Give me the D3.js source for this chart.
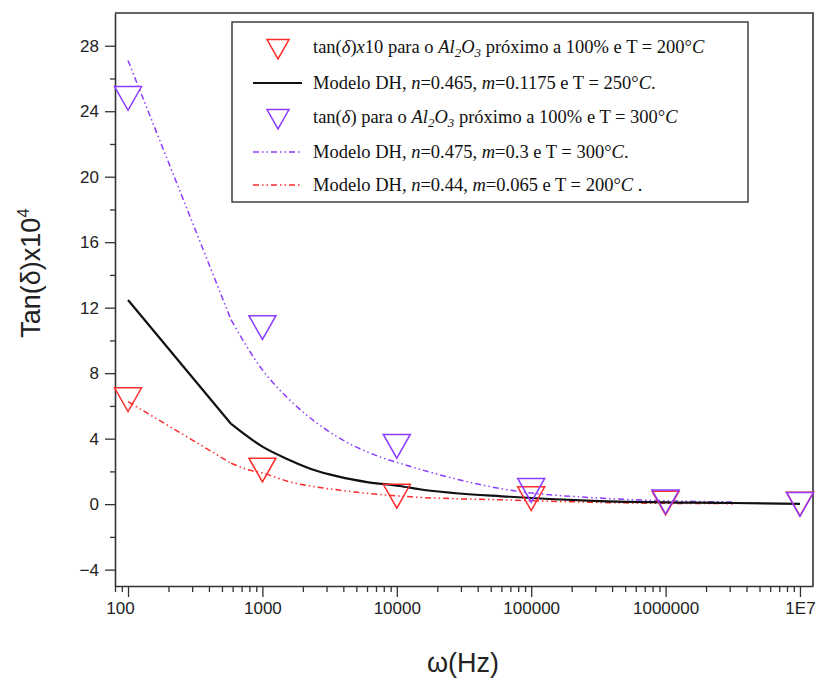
<!DOCTYPE html>
<html>
<head>
<meta charset="utf-8">
<script src="https://cdn.jsdelivr.net/npm/d3@7"></script>
<style>
  body { margin: 0; background: #fff; }
  svg { display: block; }
  .tick text { font-family: "Liberation Sans", Arial, sans-serif; font-size: 17px; fill: #222; }
</style>
</head>
<body>
<script>
// measured points (triangles)
const freqs = [100, 1000, 10000, 100000, 1000000, 10000000]
const tan200x10 = [6.4, 2.1, 0.5, 0.35, 0.08, 0.02]
const tan300 = [24.8, 10.8, 3.55, 0.86, 0.15, 0.0]

// DH model curves
const dh250Freq = [100, 585, 1000, 1585, 2300, 3700, 6000, 10500, 14800, 69000, 324000, 3200000, 10000000]
const dh250Val = [12.47, 4.9, 3.51, 2.7, 2.15, 1.68, 1.35, 1.11, 0.91, 0.45, 0.19, 0.07, 0.02]

const dh300Freq = [100, 585, 1000, 1580, 2800, 7400, 10500, 69000, 324000, 3200000]
const dh300Val = [27.1, 11.25, 8.2, 6.4, 4.7, 2.9, 2.5, 0.86, 0.37, 0.13]

const dh200Freq = [100, 585, 794, 1000, 1585, 3700, 12600, 69000, 575000, 3200000]
const dh200Val = [6.26, 2.5, 2.09, 1.9, 1.37, 0.86, 0.45, 0.25, 0.07, 0.03]

const xTicks = [100, 1000, 10000, 100000, 1000000, 10000000]
const xTickLabels = ['100', '1000', '10000', '100000', '1000000', '1E7']
const yTicks = [-4, 0, 4, 8, 12, 16, 20, 24, 28]

const w = 824
const h = 684
const m = { top: 13, right: 11, bottom: 98, left: 115 }

const red = '#ff2a2a'
const purple = '#8c3cff'

const svg = d3.select('body')
  .append('svg')
  .attr('width', w)
  .attr('height', h)

const xScale = d3.scaleLog()
  .domain([80, 12500000])
  .range([m.left, w - m.right])

const yScale = d3.scaleLinear()
  .domain([-5, 30])
  .range([h - m.bottom, m.top])

// minor tick values
let xMinor = [80, 90]
for (let e = 2; e <= 6; e++) {
  for (let k = 2; k <= 9; k++) xMinor.push(k * Math.pow(10, e))
}
let yMinor = []
for (let v = -2; v <= 28; v += 4) yMinor.push(v)

// frame top and right
svg.append('path')
  .attr('d', `M${m.left},${m.top}H${w - m.right}V${h - m.bottom}`)
  .attr('fill', 'none')
  .attr('stroke', '#333')
  .attr('stroke-width', 1.6)

const xAxis = d3.axisBottom(xScale)
  .tickValues(xTicks)
  .tickFormat((d, i) => xTickLabels[i])
  .tickSize(11)
  .tickSizeOuter(0)
  .tickPadding(5)

const gx = svg.append('g')
  .attr('class', 'x-axis')
  .attr('transform', 'translate(0,' + (h - m.bottom) + ')')
  .call(xAxis)

gx.selectAll('.tick')
  .filter((d, i) => i === 0)
  .select('text')
  .attr('dx', -8)

svg.append('g')
  .attr('transform', 'translate(0,' + (h - m.bottom) + ')')
  .call(d3.axisBottom(xScale).tickValues(xMinor).tickFormat('').tickSize(6).tickSizeOuter(0))
  .select('.domain').remove()

const yAxis = d3.axisLeft(yScale)
  .tickValues(yTicks)
  .tickSize(10)
  .tickSizeOuter(0)
  .tickPadding(6)

svg.append('g')
  .attr('class', 'y-axis')
  .attr('transform', 'translate(' + m.left + ',0)')
  .call(yAxis)

svg.append('g')
  .attr('transform', 'translate(' + m.left + ',0)')
  .call(d3.axisLeft(yScale).tickValues(yMinor).tickFormat('').tickSize(5).tickSizeOuter(0))
  .select('.domain').remove()

svg.selectAll('.domain').attr('stroke', '#333').attr('stroke-width', 1.6)
svg.selectAll('.tick line').attr('stroke', '#333').attr('stroke-width', 1.3)

// curves: straight first segment (100 -> 585 Hz), smooth afterwards
const line = d3.line()
  .x(d => xScale(d[0]))
  .y(d => yScale(d[1]))

const curves = [
  { f: dh300Freq, v: dh300Val, color: purple, dash: '6,3,1.5,3,1.5,3', width: 1.5 },
  { f: dh200Freq, v: dh200Val, color: red, dash: '6,3,1.5,3,1.5,3', width: 1.5 },
  { f: dh250Freq, v: dh250Val, color: '#111', dash: null, width: 2.2 }
]

curves.forEach(c => {
  const pts = c.f.map((f, i) => [f, c.v[i]])
  const g = svg.append('g')
    .attr('fill', 'none')
    .attr('stroke', c.color)
    .attr('stroke-width', c.width)
    .attr('stroke-dasharray', c.dash)
  g.append('path')
    .attr('d', line.curve(d3.curveLinear)(pts.slice(0, 2)))
  g.append('path')
    .attr('d', line.curve(d3.curveMonotoneX)(pts.slice(1)))
})

// triangles
const tri = (s) => `M${-s / 2},${-s * 0.43}L${s / 2},${-s * 0.43}L0,${s * 0.45}Z`

const markerSets = [
  { v: tan200x10, color: red },
  { v: tan300, color: purple }
]

markerSets.forEach(ms => {
  svg.append('g')
    .selectAll('path')
    .data(freqs.map((f, i) => [f, ms.v[i]]))
    .enter()
    .append('path')
    .attr('d', tri(27))
    .attr('transform', d => 'translate(' + xScale(d[0]) + ',' + yScale(d[1]) + ')')
    .attr('fill', 'none')
    .attr('stroke', ms.color)
    .attr('stroke-width', 1.5)
})

// axis titles
svg.append('text')
  .attr('transform', 'translate(40,273) rotate(-90)')
  .attr('text-anchor', 'middle')
  .style('font-family', '"Liberation Sans", Arial, sans-serif')
  .style('font-size', '27px')
  .attr('fill', '#222')
  .html('Tan(δ)x10<tspan dy="-11" font-size="17px">4</tspan>')

svg.append('text')
  .attr('x', 463)
  .attr('y', 672)
  .attr('text-anchor', 'middle')
  .style('font-family', '"Liberation Sans", Arial, sans-serif')
  .style('font-size', '27px')
  .attr('fill', '#222')
  .text('ω(Hz)')

// legend
const lg = svg.append('g')
lg.append('rect')
  .attr('x', 232)
  .attr('y', 22)
  .attr('width', 516)
  .attr('height', 180)
  .attr('fill', '#fff')
  .attr('stroke', '#222')
  .attr('stroke-width', 1.3)

const legendRows = [
  { y: 47, type: 'marker', color: red,
    parts: [['tan(', 0], ['δ', 1], [')', 0], ['x', 1], ['10 para o ', 0], ['Al', 1], ['2', 2], ['O', 1], ['3', 2], [' próximo a 100% e T = 200°', 0], ['C', 1]] },
  { y: 83, type: 'line', color: '#111', dash: null, width: 2,
    parts: [['Modelo DH, ', 0], ['n', 1], ['=0.465, ', 0], ['m', 1], ['=0.1175 e T = 250°', 0], ['C', 1], ['.', 0]] },
  { y: 117, type: 'marker', color: purple,
    parts: [['tan(', 0], ['δ', 1], [') para o ', 0], ['Al', 1], ['2', 2], ['O', 1], ['3', 2], [' próximo a 100% e T = 300°', 0], ['C', 1]] },
  { y: 152, type: 'line', color: purple, dash: '6,3,1.5,3,1.5,3', width: 1.5,
    parts: [['Modelo DH, ', 0], ['n', 1], ['=0.475, ', 0], ['m', 1], ['=0.3 e T = 300°', 0], ['C', 1], ['.', 0]] },
  { y: 185, type: 'line', color: red, dash: '6,3,1.5,3,1.5,3', width: 1.5,
    parts: [['Modelo DH, ', 0], ['n', 1], ['=0.44, ', 0], ['m', 1], ['=0.065 e T = 200°', 0], ['C', 1], [' .', 0]] }
]

legendRows.forEach(r => {
  if (r.type === 'marker') {
    lg.append('path')
      .attr('d', tri(22))
      .attr('transform', 'translate(278,' + (r.y + 2) + ')')
      .attr('fill', 'none')
      .attr('stroke', r.color)
      .attr('stroke-width', 1.5)
  } else {
    lg.append('line')
      .attr('x1', 253).attr('x2', 302)
      .attr('y1', r.y).attr('y2', r.y)
      .attr('stroke', r.color)
      .attr('stroke-width', r.width)
      .attr('stroke-dasharray', r.dash)
  }
  const t = lg.append('text')
    .attr('x', 313)
    .attr('y', r.y + 6)
    .style('font-family', '"Liberation Serif", "Times New Roman", serif')
    .style('font-size', '18.5px')
    .attr('fill', '#111')
  let sub = false
  r.parts.forEach(p => {
    const ts = t.append('tspan').text(p[0])
    if (p[1] === 1) ts.style('font-style', 'italic')
    if (p[1] === 2) {
      ts.attr('dy', 4).style('font-size', '13px').style('font-style', 'italic')
      sub = true
    } else if (sub) {
      ts.attr('dy', -4)
      sub = false
    }
  })
})
</script>
</body>
</html>
